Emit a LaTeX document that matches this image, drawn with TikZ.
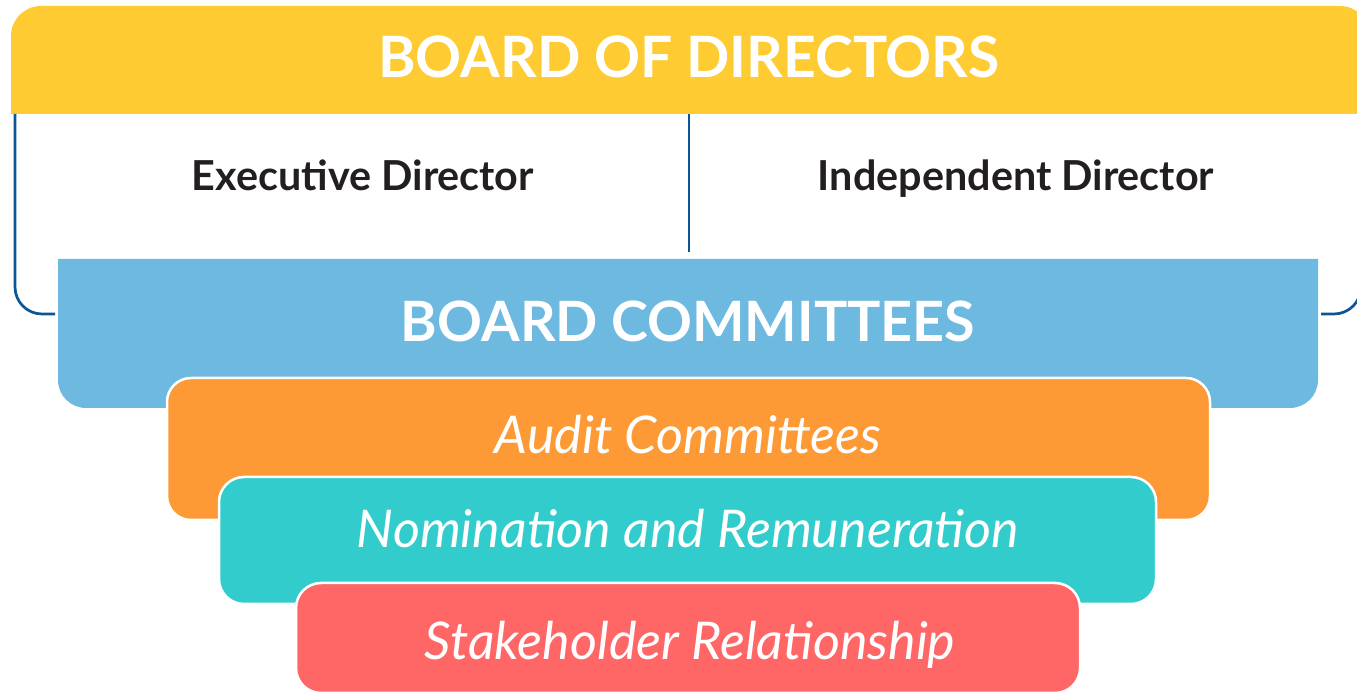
\documentclass[tikz,border=0pt]{standalone}
\usepackage{fontspec}
\setmainfont{Lato}
\definecolor{cyellow}{HTML}{FECB33}
\definecolor{cblue}{HTML}{6EB9DF}
\definecolor{corange}{HTML}{FD9A35}
\definecolor{cteal}{HTML}{33CCCC}
\definecolor{cred}{HTML}{FF6666}
\definecolor{cnavy}{HTML}{0E5596}
\definecolor{ctext}{HTML}{231F20}
\tikzset{
  bracket/.style={draw=cnavy,line width=2.7pt},
  tier/.style={line width=2.5pt,draw=white},
  headtext/.style={inner sep=0pt,anchor=base,text=white,font=\bfseries\fontsize{57}{60}\selectfont},
  subtext/.style={inner sep=0pt,anchor=base,text=ctext,font=\bfseries\fontsize{41.3}{44}\selectfont},
  comtext/.style={inner sep=0pt,anchor=base,text=white,font=\itshape\fontsize{52}{56}\selectfont}
}
\begin{document}
\begin{tikzpicture}[x=1pt,y=1pt]
\clip (0,0) rectangle (1357,695);
\fill[white] (0,0) rectangle (1357,695);
% yellow header
\fill[cyellow] (11,581) -- (11,659) arc[start angle=180,end angle=90,radius=30] -- (1340,689) arc[start angle=90,end angle=0,radius=30] -- (1370,581) -- cycle;
% brackets
\draw[bracket] (15,581) -- (15,408) arc[start angle=180,end angle=270,radius=27] -- (55,381);
\draw[bracket] (1361,581) -- (1361,408) arc[start angle=0,end angle=-90,radius=27] -- (1321,381);
\draw[bracket] (689,581) -- (689,443);
% blue
\fill[cblue] (58,436) -- (58,315) arc[start angle=180,end angle=270,radius=28] -- (1290,287) arc[start angle=270,end angle=360,radius=28] -- (1318,436) -- cycle;
% tiers
\filldraw[tier,fill=corange,rounded corners=24pt] (167,175) rectangle (1210,317);
\filldraw[tier,fill=cteal,rounded corners=25pt] (219,91) rectangle (1156,218);
\filldraw[tier,fill=cred,rounded corners=25pt] (296,2) rectangle (1080,112);
% texts
\node[headtext] (bod) at (689,617) {BOARD OF DIRECTORS};
\node[subtext] (exe) at (363,504) {Executive Director};
\node[subtext] (ind) at (1016,504) {Independent Director};
\node[headtext,font=\bfseries\fontsize{55.6}{60}\selectfont] (bc) at (688,353) {BOARD COMMITTEES};
\node[comtext] (aud) at (688,241) {Audit Committees};
\node[comtext] (nom) at (688,147) {Nomination and Remuneration};
\node[comtext] (sta) at (690,35) {Stakeholder Relationship};
\end{tikzpicture}
\end{document}
